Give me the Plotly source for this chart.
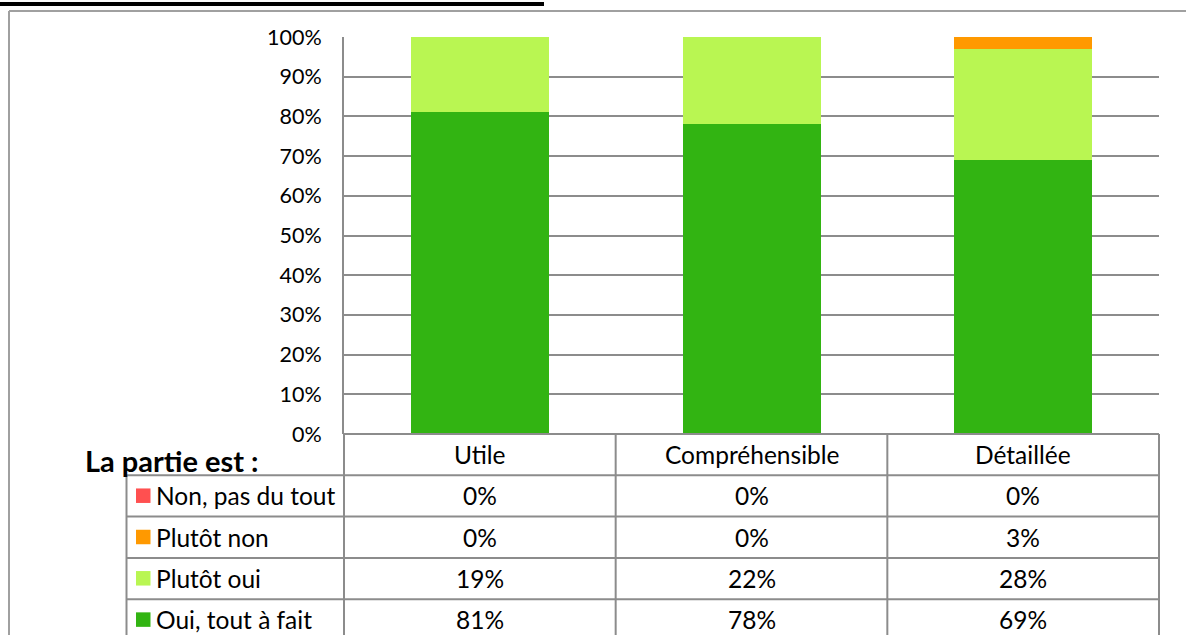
import plotly.graph_objects as go

# ---- data ----
categories = ["Utile", "Compréhensible", "Détaillée"]
series_names = ["Non, pas du tout", "Plutôt non", "Plutôt oui", "Oui, tout à fait"]
non_pas_du_tout = [0.00, 0.00, 0.00]
plutot_non = [0.00, 0.00, 0.03]
plutot_oui = [0.19, 0.22, 0.28]
oui_tout_a_fait = [0.81, 0.78, 0.69]
series_values = [non_pas_du_tout, plutot_non, plutot_oui, oui_tout_a_fait]
series_colors = ["#FF5050", "#FF9900", "#B9F652", "#32B412"]
y_ticks = [i / 10 for i in range(11)]
table_title = "La partie est :"

# ---- layout constants ----
W, H = 1186, 635
ML, MR, MT, MB = 344, 27, 37, 201
PW, PH = W - ML - MR, H - MT - MB
FONT = "Lato, sans-serif"
GRID = "#8c8c8c"
TABLE_SIZE = 24.5


def xp(px):
    return (px - ML) / PW


def yp(py):
    return (H - MB - py) / PH


fig = go.Figure()
# stacked bars, bottom series first
for name, vals, col in reversed(list(zip(series_names, series_values, series_colors))):
    fig.add_trace(go.Bar(x=categories, y=vals, name=name, marker=dict(color=col, line_width=0),
                         hoverinfo="skip"))

shapes = []
annotations = []

# table geometry
row_h = 41.3
top = H - MB
rows_y = [top + i * row_h for i in range(6)]
col_edges = [xp(ML + i * PW / 3) for i in range(4)]
leg_left = xp(126.5)
line = dict(color=GRID, width=2)

# horizontal lines
for i in range(1, 6):
    shapes.append(dict(type="line", xref="paper", yref="paper", x0=leg_left, x1=1,
                       y0=yp(rows_y[i]), y1=yp(rows_y[i]), line=line))
shapes.append(dict(type="line", xref="paper", yref="paper", x0=0, x1=1,
                   y0=0, y1=0, line=line))
# vertical lines
shapes.append(dict(type="line", xref="paper", yref="paper", x0=leg_left, x1=leg_left,
                   y0=yp(rows_y[1]), y1=yp(rows_y[5]), line=line))
for ce in col_edges:
    shapes.append(dict(type="line", xref="paper", yref="paper", x0=ce, x1=ce,
                       y0=0, y1=yp(rows_y[5]), line=line))

# header cells
for i, c in enumerate(categories):
    annotations.append(dict(xref="paper", yref="paper", x=(i + 0.5) / 3,
                            y=yp((rows_y[0] + rows_y[1]) / 2), text=c, showarrow=False,
                            font=dict(family=FONT, size=TABLE_SIZE, color="#000"),
                            xanchor="center", yanchor="middle"))
annotations.append(dict(xref="paper", yref="paper", x=xp(83), y=yp(460), text="<b>" + table_title + "</b>",
                        showarrow=False, font=dict(family=FONT, size=29, color="#000"),
                        xanchor="left", yanchor="middle"))

# body rows
for r, (name, vals, col) in enumerate(zip(series_names, series_values, series_colors)):
    cy = (rows_y[r + 1] + rows_y[r + 2]) / 2
    shapes.append(dict(type="rect", xref="paper", yref="paper", x0=xp(136), x1=xp(150.5),
                       y0=yp(cy - 7.5), y1=yp(cy + 7), fillcolor=col, line_width=0))
    annotations.append(dict(xref="paper", yref="paper", x=xp(154), y=yp(cy), text=name,
                            showarrow=False, font=dict(family=FONT, size=TABLE_SIZE, color="#000"),
                            xanchor="left", yanchor="middle"))
    for i, v in enumerate(vals):
        annotations.append(dict(xref="paper", yref="paper", x=(i + 0.5) / 3, y=yp(cy),
                                text=f"{round(v * 100)}%", showarrow=False,
                                font=dict(family=FONT, size=TABLE_SIZE, color="#000"),
                                xanchor="center", yanchor="middle"))

# outer frame and title underline (top of page, cropped)
shapes.append(dict(type="line", xref="paper", yref="paper", x0=xp(9), x1=xp(W + 5),
                   y0=yp(11), y1=yp(11), line=dict(color="#a0a0a0", width=2)))
shapes.append(dict(type="line", xref="paper", yref="paper", x0=xp(9), x1=xp(9),
                   y0=yp(11), y1=yp(H + 5), line=dict(color="#a0a0a0", width=2)))
shapes.append(dict(type="line", xref="paper", yref="paper", x0=xp(0), x1=xp(544),
                   y0=yp(4), y1=yp(4), line=dict(color="#000", width=4)))

fig.update_layout(
    width=W, height=H,
    margin=dict(l=ML, r=MR, t=MT, b=MB, pad=0),
    paper_bgcolor="white", plot_bgcolor="white",
    barmode="stack", bargap=0.492,
    showlegend=False,
    font=dict(family=FONT, size=21, color="#000"),
    xaxis=dict(showticklabels=False, showgrid=False, zeroline=False, showline=False,
               ticks="", range=[-0.5, 2.5]),
    yaxis=dict(range=[0, 1], tickvals=y_ticks, tickformat=".0%", showgrid=True,
               gridcolor=GRID, gridwidth=2, zeroline=False, showline=True,
               linecolor=GRID, linewidth=2, ticks="", ticklabelstandoff=16,
               tickfont=dict(family=FONT, size=21.5, color="#000")),
    shapes=shapes, annotations=annotations,
)

fig.write_html("out.html")
